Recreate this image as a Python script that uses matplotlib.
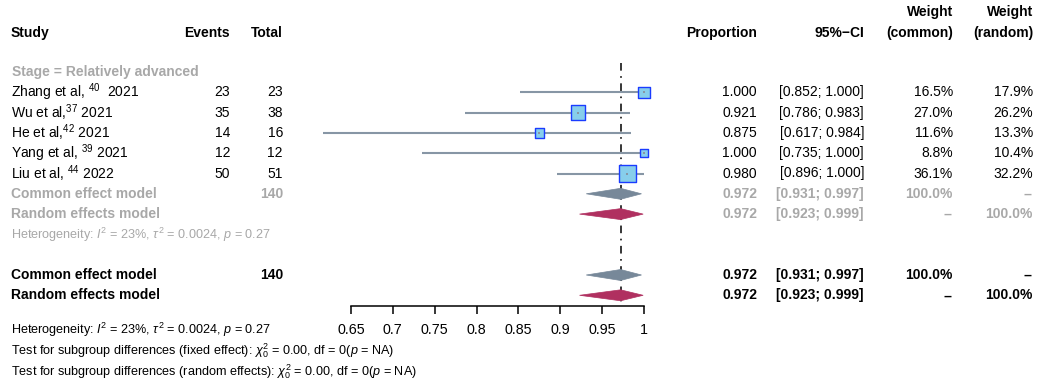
import numpy as np
import matplotlib
matplotlib.use("Agg")
import matplotlib.pyplot as plt
from matplotlib.patches import Polygon

plt.rcParams['font.family'] = ['Liberation Sans', 'DejaVu Sans']
plt.rcParams['mathtext.fontset'] = 'custom'
plt.rcParams['mathtext.rm'] = 'Liberation Sans'
plt.rcParams['mathtext.it'] = 'Liberation Sans:italic'
plt.rcParams['mathtext.bf'] = 'Liberation Sans:bold'

# Study-level data
studies = [r"Zhang et al, $^{40}$  2021", r"Wu et al,$^{37}$ 2021", r"He et al,$^{42}$ 2021",
           r"Yang et al, $^{39}$ 2021", r"Liu et al, $^{44}$ 2022"]
events = [23, 35, 14, 12, 50]
totals = [23, 38, 16, 12, 51]
prop = [1.000, 0.921, 0.875, 1.000, 0.980]
ci_lo = [0.852, 0.786, 0.617, 0.735, 0.896]
ci_hi = [1.000, 0.983, 0.984, 1.000, 1.000]
w_common = [16.5, 27.0, 11.6, 8.8, 36.1]
w_random = [17.9, 26.2, 13.3, 10.4, 32.2]

# Pooled estimates (estimate, lower, upper)
common_est = (0.972, 0.931, 0.997)
random_est = (0.972, 0.923, 0.999)
n_total = 140

subgroup_label = "Stage = Relatively advanced"
het_text = r"Heterogeneity: $I^2$ = 23%, $\tau^2$ = 0.0024, $p$ = 0.27"
foot_fixed = r"Test for subgroup differences (fixed effect): $\chi^2_0$ = 0.00, df = 0($p$ = NA)"
foot_random = r"Test for subgroup differences (random effects): $\chi^2_0$ = 0.00, df = 0($p$ = NA)"
xticks = [0.65, 0.7, 0.75, 0.8, 0.85, 0.9, 0.95, 1]

GREY_TXT = '#a8a8a8'
LINE_COL = '#8796a5'
COMMON_COL = '#778899'
RANDOM_COL = '#b03060'
BOX_FILL = '#87ceeb'
BOX_EDGE = '#1a3cff'

W, H = 1038, 382
row_h = 20.3
y0 = 72.0
ylim = ((H - y0) / row_h, -y0 / row_h)

def px_row(y):
    return (y - y0) / row_h

fig = plt.figure(figsize=(W / 100, H / 100), dpi=100)

# text table
tx = fig.add_axes([0, 0, 1, 1])
tx.set_xlim(0, W)
tx.set_ylim(*ylim)
tx.axis('off')

fs = 10
fs_small = 9.1
col_study, col_ev, col_tot = 11, 230, 283
col_prop, col_ci, col_wc, col_wr = 757, 864, 953, 1033

def put(x, y, s, ha='left', **kw):
    kw.setdefault('fontsize', fs)
    tx.text(x, y, s, ha=ha, va='center', **kw)

# header
hy1, hy2 = px_row(12), px_row(33)
put(col_study, hy2, "Study", weight='bold')
put(col_ev, hy2, "Events", ha='right', weight='bold')
put(col_tot, hy2, "Total", ha='right', weight='bold')
put(col_prop, hy2, "Proportion", ha='right', weight='bold')
put(col_ci, hy2, "95%\u2212CI", ha='right', weight='bold')
put(col_wc, hy1, "Weight", ha='right', weight='bold')
put(col_wc, hy2, "(common)", ha='right', weight='bold')
put(col_wr, hy1, "Weight", ha='right', weight='bold')
put(col_wr, hy2, "(random)", ha='right', weight='bold')

put(col_study + 1, 0, subgroup_label, weight='bold', color=GREY_TXT)

rows = np.arange(1, len(studies) + 1)
for r, s, e, n, p, lo, hi, wc, wr in zip(rows, studies, events, totals, prop,
                                         ci_lo, ci_hi, w_common, w_random):
    put(col_study, r, s)
    put(col_ev, r, str(e), ha='right')
    put(col_tot, r, str(n), ha='right')
    put(col_prop, r, f"{p:.3f}", ha='right')
    put(col_ci, r, f"[{lo:.3f}; {hi:.3f}]", ha='right')
    put(col_wc, r, f"{wc:.1f}%", ha='right')
    put(col_wr, r, f"{wr:.1f}%", ha='right')

def pooled_rows(rc, rr, color):
    put(col_study, rc, "Common effect model", weight='bold', color=color)
    put(col_tot, rc, str(n_total), ha='right', weight='bold', color=color)
    put(col_prop, rc, f"{common_est[0]:.3f}", ha='right', weight='bold', color=color)
    put(col_ci, rc, f"[{common_est[1]:.3f}; {common_est[2]:.3f}]", ha='right', weight='bold', color=color)
    put(col_wc, rc, "100.0%", ha='right', weight='bold', color=color)
    put(col_wr, rc, "--", ha='right', weight='bold', color=color)
    put(col_study, rr, "Random effects model", weight='bold', color=color)
    put(col_prop, rr, f"{random_est[0]:.3f}", ha='right', weight='bold', color=color)
    put(col_ci, rr, f"[{random_est[1]:.3f}; {random_est[2]:.3f}]", ha='right', weight='bold', color=color)
    put(col_wc, rr, "--", ha='right', weight='bold', color=color)
    put(col_wr, rr, "100.0%", ha='right', weight='bold', color=color)

pooled_rows(6, 7, GREY_TXT)
put(col_study, 8, het_text, fontsize=fs_small, color=GREY_TXT)
pooled_rows(10, 11, 'black')

put(col_study, px_row(330), het_text, fontsize=fs_small)
put(col_study, px_row(351), foot_fixed, fontsize=fs_small)
put(col_study, px_row(372), foot_random, fontsize=fs_small)

# forest panel
fa = fig.add_axes([351 / W, 0, 293 / W, 1])
fa.set_xlim(0.65, 1)
fa.set_ylim(*ylim)
fa.patch.set_visible(False)
for sp in ['top', 'left', 'right']:
    fa.spines[sp].set_visible(False)
fa.spines['bottom'].set_position(('data', px_row(306)))
fa.spines['bottom'].set_bounds(0.65, 1)
fa.spines['bottom'].set_linewidth(1.1)
fa.set_yticks([])
fa.set_xticks(xticks)
fa.set_xticklabels([f"{t:g}" for t in xticks])
fa.tick_params(axis='x', direction='out', length=5.5, width=1.1, labelsize=10.3, pad=6.5)

# reference line at pooled estimate
fa.plot([common_est[0]] * 2, [-0.44, 11.4], color='black', lw=1.1,
        dashes=[5, 3.6, 1.1, 3.6], zorder=1)

# CIs and squares
fa.hlines(rows, ci_lo, ci_hi, color=LINE_COL, lw=1.5, clip_on=False, zorder=2)
sizes = (2.04 * np.sqrt(w_common)) ** 2
fa.scatter(prop, rows, s=sizes, marker='s', facecolor=BOX_FILL, edgecolor=BOX_EDGE,
           linewidth=1.0, clip_on=False, zorder=3)
fa.scatter(prop, rows, s=4, marker='s', color=LINE_COL, clip_on=False, zorder=4, linewidth=0)

def diamond(est, row, color, hh=0.27):
    m, lo, hi = est
    fa.add_patch(Polygon([(lo, row), (m, row - hh), (hi, row), (m, row + hh)],
                         closed=True, facecolor=color, edgecolor=color, lw=0.5,
                         clip_on=False, zorder=3))

diamond(common_est, 6, COMMON_COL)
diamond(random_est, 7, RANDOM_COL)
diamond(common_est, 10, COMMON_COL)
diamond(random_est, 11, RANDOM_COL)

fig.savefig("out.png", dpi=100)
